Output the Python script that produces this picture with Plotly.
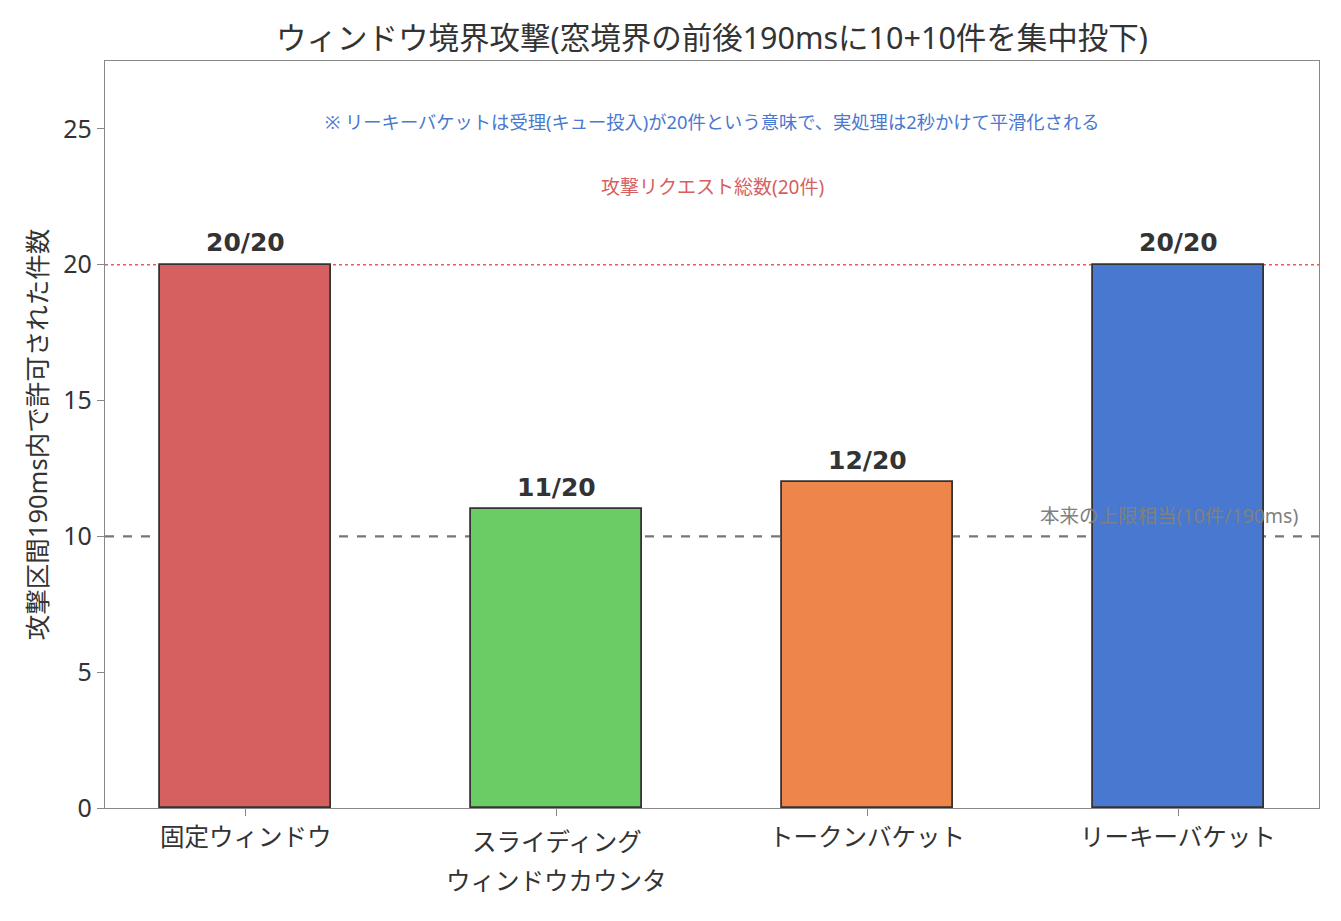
import plotly.graph_objects as go

categories = ["固定ウィンドウ", "スライディング<br>ウィンドウカウンタ", "トークンバケット", "リーキーバケット"]
allowed = [20, 11, 12, 20]
total = 20
limit = 10
colors = ["#d65f5f", "#6acc64", "#ee854a", "#4878d0"]
labels = [f"{v}/{total}" for v in allowed]

FONT = "Noto Sans, Noto Sans CJK JP, sans-serif"

fig = go.Figure()
fig.add_trace(go.Bar(
    x=list(range(len(categories))), y=allowed, width=0.55,
    marker=dict(color=colors, line=dict(color="#333333", width=1.8)),
    showlegend=False, hoverinfo="skip",
))

for i, (v, t) in enumerate(zip(allowed, labels)):
    fig.add_annotation(x=i, y=v, text=f"<b>{t}</b>", showarrow=False,
                       yanchor="middle", yshift=22,
                       font=dict(size=25, color="#333333", family="DejaVu Sans, Noto Sans CJK JP"))

# category labels, each line placed under its tick
for i, cat in enumerate(categories):
    lines = cat.split("<br>")
    first_shift = -28 if len(lines) == 1 else -33
    for j, line in enumerate(lines):
        fig.add_annotation(x=i, xref="x", y=0, yref="paper", text=line, showarrow=False,
                           xanchor="center", yanchor="middle", yshift=first_shift - 39 * j,
                           font=dict(size=24.5, color="#333333", family=FONT))

fig.add_shape(type="line", xref="paper", x0=0, x1=1, y0=limit, y1=limit,
              line=dict(color="#777777", width=2.2, dash="dash"), layer="below")
fig.add_shape(type="line", xref="paper", x0=0, x1=1, y0=total, y1=total,
              line=dict(color="#e06060", width=1.6, dash="dot"), layer="below")

fig.add_annotation(xref="paper", x=0.984, y=10.75, text="本来の上限相当(10件/190ms)",
                   showarrow=False, xanchor="right", yanchor="middle",
                   font=dict(size=19.5, color="#808080", family=FONT))
fig.add_annotation(xref="paper", x=0.5, y=22.85, text="攻撃リクエスト総数(20件)",
                   showarrow=False, xanchor="center", yanchor="middle",
                   font=dict(size=19, color="#d65f5f", family=FONT))
fig.add_annotation(xref="paper", x=0.5, y=25.27,
                   text="※ リーキーバケットは受理(キュー投入)が20件という意味で、実処理は2秒かけて平滑化される",
                   showarrow=False, xanchor="center", yanchor="middle",
                   font=dict(size=18.3, color="#4878d0", family=FONT))

fig.update_layout(
    width=1341, height=921,
    margin=dict(l=105, r=22, t=61, b=113),
    paper_bgcolor="white", plot_bgcolor="white",
    font=dict(family=FONT, color="#333333"),
    title=dict(text="ウィンドウ境界攻撃(窓境界の前後190msに10+10件を集中投下)",
               x=0.5, xref="paper", xanchor="center", y=1 - 38 / 921, yref="container",
               yanchor="middle",
               font=dict(size=30.5, color="#333333", family=FONT)),
    bargap=0,
)
fig.update_xaxes(
    tickmode="array", tickvals=list(range(len(categories))), ticktext=["" for _ in categories],
    range=[-0.4525, 3.4525], showgrid=False, zeroline=False,
    showline=True, linecolor="#888888", linewidth=1.3, mirror=True,
    ticks="outside", ticklen=7, tickcolor="#888888",
)
fig.update_yaxes(
    range=[0, 27.5], tickvals=[0, 5, 10, 15, 20, 25], showgrid=False, zeroline=False,
    showline=True, linecolor="#888888", linewidth=1.3, mirror=True,
    ticks="outside", ticklen=7, tickcolor="#888888",
    tickfont=dict(size=25, color="#333333"),
    title=dict(text="攻撃区間190ms内で許可された件数", font=dict(size=25.5, color="#333333"), standoff=8),
)

fig.write_html("out.html")
